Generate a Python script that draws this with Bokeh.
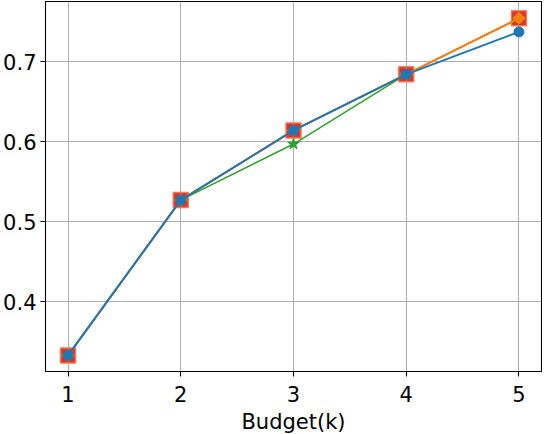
import math
from bokeh.plotting import figure
from bokeh.models import Range1d, FixedTicker
from bokeh.embed import file_html
from bokeh.resources import INLINE

budget = [1, 2, 3, 4, 5]
series_red = [0.333, 0.527, 0.614, 0.684, 0.754]
series_green = [0.333, 0.527, 0.597, 0.684, 0.754]
series_orange = [0.333, 0.527, 0.614, 0.684, 0.754]
series_blue = [0.333, 0.527, 0.614, 0.684, 0.737]
x_ticks = [1, 2, 3, 4, 5]
y_ticks = [0.4, 0.5, 0.6, 0.7]

FONT = "DejaVu Sans"

p = figure(output_backend="svg", toolbar_location=None,
           frame_width=496, frame_height=370,
           x_range=Range1d(0.8, 5.2), y_range=Range1d(0.3129, 0.775),
           min_border_top=1, min_border_right=1, min_border_left=0, min_border_bottom=0)

p.outline_line_color = "black"
p.outline_line_width = 1.1
p.background_fill_color = "white"
p.border_fill_color = "white"

for ax in (p.xaxis[0], p.yaxis[0]):
    ax.axis_line_color = None
    ax.major_tick_line_color = "black"
    ax.major_tick_line_width = 1.1
    ax.major_tick_out = 5
    ax.major_tick_in = 0
    ax.minor_tick_line_color = None
    ax.major_label_text_font = FONT
    ax.major_label_text_font_size = "21px"
    ax.major_label_text_color = "black"

p.yaxis[0].major_label_standoff = 4
p.xaxis[0].major_label_standoff = 9
p.xaxis[0].ticker = FixedTicker(ticks=x_ticks)
p.yaxis[0].ticker = FixedTicker(ticks=y_ticks)
p.xaxis[0].axis_label = "Budget(k)"
p.xaxis[0].axis_label_text_font = FONT
p.xaxis[0].axis_label_text_font_size = "21px"
p.xaxis[0].axis_label_text_font_style = "normal"
p.xaxis[0].axis_label_text_color = "black"
p.xaxis[0].axis_label_standoff = 5

p.grid.grid_line_color = "#b0b0b0"
p.grid.grid_line_width = 1

# red squares (bottom)
p.line(budget, series_red, line_color="#d62728", line_width=1.5)
p.scatter(budget, series_red, marker="square", size=15,
          fill_color="#e0302a", line_color="#f07a55", line_width=1.5)
# green stars
p.line(budget, series_green, line_color="#2ca02c", line_width=1.5)
p.scatter(budget, series_green, marker="star", size=12,
          fill_color="#2ca02c", line_color="#2ca02c", line_width=1)
# orange diamonds
p.line(budget, series_orange, line_color="#ff7f0e", line_width=2)
p.scatter(budget, series_orange, marker="square", size=8.5, angle=math.pi / 4,
          fill_color="#ff7f0e", line_color="#ff7f0e", line_width=1)
# blue circles
p.line(budget, series_blue, line_color="#1f77b4", line_width=2)
p.scatter(budget, series_blue, marker="circle", size=10,
          fill_color="#1f77b4", line_color="#1f77b4", line_width=1)

open("out.html", "w").write(file_html(p, INLINE))
